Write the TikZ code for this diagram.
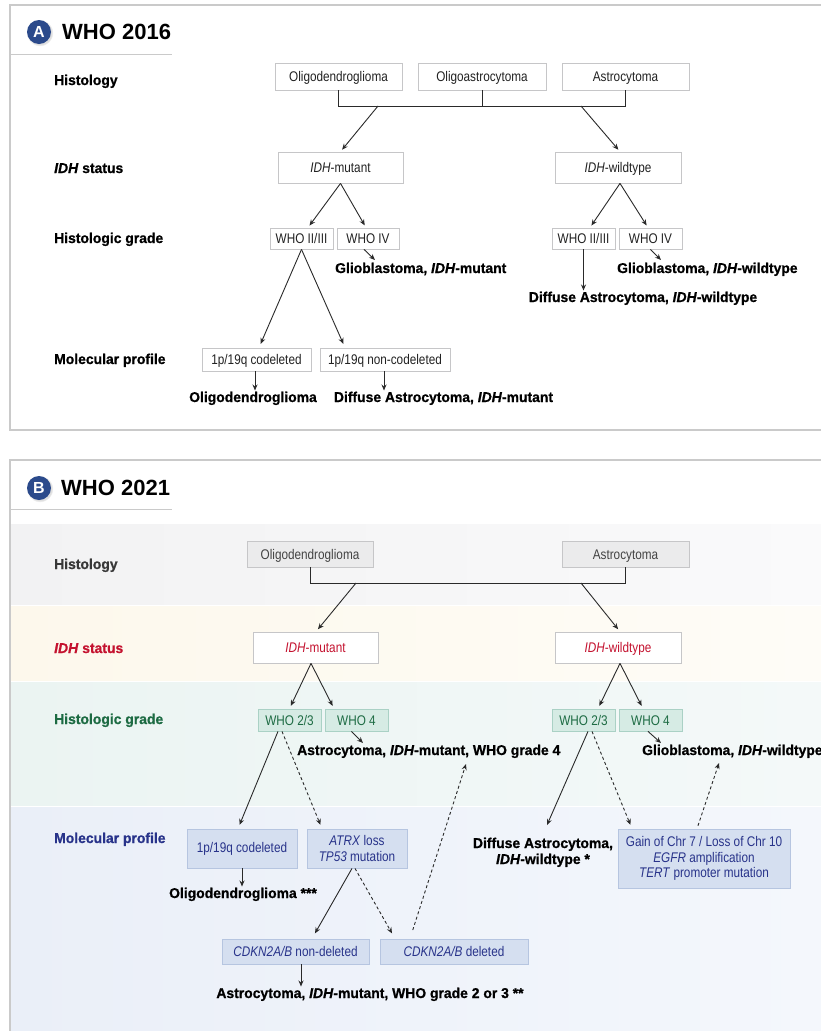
\documentclass[tikz,border=0pt]{standalone}
\usepackage{fontspec}
\setmainfont{Liberation Sans}
\newfontfamily\boxfont{Liberation Sans}[FakeStretch=0.84]
\newfontfamily\labfont{Liberation Sans}[FakeStretch=0.98, BoldFeatures={FakeBold=0.8}, BoldItalicFeatures={FakeBold=0.8}]
\usetikzlibrary{arrows.meta,shadows,calc}
\definecolor{ln}{HTML}{2A2A2A}
\definecolor{framec}{HTML}{CACACA}
\definecolor{badgec}{HTML}{2B4A8B}
\definecolor{redc}{HTML}{C4122F}
\definecolor{greenc}{HTML}{1D6B43}
\definecolor{navyc}{HTML}{28338A}
\definecolor{boxtxt}{HTML}{222222}
\definecolor{histfill}{HTML}{EBEBEC}
\definecolor{histdraw}{HTML}{C6C6C8}
\definecolor{gradefill}{HTML}{D6EBE4}
\definecolor{gradedraw}{HTML}{AAD1C5}
\definecolor{molfill}{HTML}{D5DFF0}
\definecolor{moldraw}{HTML}{B6C5E0}
\definecolor{bandHa}{HTML}{F2F2F3}
\definecolor{bandHb}{HTML}{FAFAFB}
\definecolor{bandIa}{HTML}{FDF8EC}
\definecolor{bandIb}{HTML}{FEFCF7}
\definecolor{bandGa}{HTML}{EBF4F2}
\definecolor{bandGb}{HTML}{F4F9F9}
\definecolor{bandMa}{HTML}{EAEFF8}
\definecolor{bandMb}{HTML}{F4F7FC}
\tikzset{
  conn/.style={draw=ln, line width=0.9pt},
  arr/.style={conn, -{Stealth[length=6pt,width=5pt]}},
  darr/.style={arr, dash pattern=on 3pt off 2.5pt},
  bx/.style={rectangle, inner sep=0pt, align=center, line width=0.8pt,
    font=\boxfont\fontsize{14}{15.5}\selectfont,
    drop shadow={shadow xshift=1pt, shadow yshift=-1.2pt, opacity=0.18}},
  sl/.style={text height=11pt, text depth=1pt},
  boxA/.style={bx, sl, draw=histdraw, fill=white, text=boxtxt},
  boxH/.style={bx, sl, draw=histdraw, fill=histfill, text=boxtxt!85},
  boxI/.style={bx, sl, draw=histdraw, fill=white, text=redc},
  boxG/.style={bx, sl, draw=gradedraw, fill=gradefill, text=greenc},
  boxM/.style={bx, draw=moldraw, fill=molfill, text=navyc},
  lab/.style={inner sep=0pt, font=\labfont\fontsize{14.2}{15}\selectfont\bfseries, text=black},
  badgest/.style={circle, fill=badgec, minimum size=24pt, inner sep=0pt, text=white,
    font=\fontsize{16}{16}\selectfont\bfseries,
    circular drop shadow={shadow xshift=0.8pt, shadow yshift=-0.8pt, shadow scale=1.12, opacity=0.25}},
  titlest/.style={inner sep=0pt, font=\fontsize{22}{22}\selectfont\bfseries, text=black},
}
\begin{document}
\begin{tikzpicture}[x=1pt,y=-1pt]
\useasboundingbox (0,0) rectangle (821,1031);
\fill[white] (0,0) rectangle (821,1031);

%================ Panel A ================
\draw[framec, line width=1.2pt] (830,5) -- (10,5) -- (10,430) -- (830,430);
\node[badgest] (bA) at (39,32) {A};
\node[titlest, anchor=base west] (tA) at (62,39) {WHO 2016};
\draw[framec, line width=1pt] (10,54) -- (172,54);

\node[lab, anchor=base west] (lHA) at (54,85) {Histology};
\node[lab, anchor=base west] (lIA) at (54,173) {\textit{IDH} status};
\node[lab, anchor=base west] (lGA) at (54,243) {Histologic grade};
\node[lab, anchor=base west] (lMA) at (54,364) {Molecular profile};

\node[boxA, minimum width=127pt, minimum height=27pt] (hOligo) at (338.5,76.5) {Oligodendroglioma};
\node[boxA, minimum width=128pt, minimum height=27pt] (hOA) at (482,76.5) {Oligoastrocytoma};
\node[boxA, minimum width=127pt, minimum height=27pt] (hAstro) at (625.5,76.5) {Astrocytoma};

\coordinate (jA) at (0,106);
\draw[conn] (hOligo.south) |- (hAstro.south |- jA) -- (hAstro.south);
\draw[conn] (hOA.south) -- (hOA.south |- jA);

\node[boxA, minimum width=125pt, minimum height=31pt] (idhm) at (340.5,167.5) {\textit{IDH}-mutant};
\node[boxA, minimum width=126pt, minimum height=31pt] (idhw) at (618,167.5) {\textit{IDH}-wildtype};

\coordinate (jA1) at (378,106);
\coordinate (jA2) at (581,106);
\draw[arr, shorten >=2.5pt] (jA1) -- (idhm.north);
\draw[arr, shorten >=2.5pt] (jA2) -- ([xshift=2pt]idhw.north);

\node[boxA, minimum width=63pt, minimum height=21pt] (w23A) at (301.5,238.5) {WHO II/III};
\node[boxA, minimum width=62pt, minimum height=21pt] (w4A) at (368,238.5) {WHO IV};
\node[boxA, minimum width=63pt, minimum height=21pt] (w23Aw) at (583.5,238.5) {WHO II/III};
\node[boxA, minimum width=63pt, minimum height=21pt] (w4Aw) at (650.5,238.5) {WHO IV};

\draw[arr, shorten >=2.5pt] (idhm.south) -- ([xshift=6.5pt]w23A.north);
\draw[arr, shorten >=2.5pt] (idhm.south) -- ([xshift=-2pt]w4A.north);
\draw[arr, shorten >=2.5pt] ([xshift=2pt]idhw.south) -- ([xshift=6.5pt]w23Aw.north);
\draw[arr, shorten >=2.5pt] ([xshift=2pt]idhw.south) -- ([xshift=-2.5pt]w4Aw.north);

\node[lab, anchor=base west] (gbmA) at (335,273) {Glioblastoma, \textit{IDH}-mutant};
\node[lab, anchor=base west] (gbmAw) at (617,273) {Glioblastoma, \textit{IDH}-wildtype};
\node[lab, anchor=base] (dAstAw) at (643,302) {Diffuse Astrocytoma, \textit{IDH}-wildtype};

\coordinate (gA) at (375,260);
\coordinate (gAw) at (661,260);
\draw[arr] ([xshift=-4pt]w4A.south) -- (gA);
\draw[arr] (w4Aw.south) -- (gAw);
\draw[arr, shorten >=1pt] (w23Aw.south) -- (w23Aw.south |- dAstAw.north);

\node[boxA, minimum width=109pt, minimum height=23pt] (p1A) at (256.5,359.5) {1p/19q codeleted};
\node[boxA, minimum width=130pt, minimum height=23pt] (p2A) at (385,359.5) {1p/19q non-codeleted};

\draw[arr, shorten >=4pt] (w23A.south) -- ([xshift=2.5pt]p1A.north);
\draw[arr, shorten >=4pt] (w23A.south) -- ([xshift=-40pt]p2A.north);

\node[lab, anchor=base] (oligoA) at (253,402) {Oligodendroglioma};
\node[lab, anchor=base] (dAstA) at (443.5,402) {Diffuse Astrocytoma, \textit{IDH}-mutant};
\draw[arr, shorten >=1pt] ([xshift=-1.5pt]p1A.south) -- ([xshift=-1.5pt]p1A.south |- oligoA.north);
\draw[arr, shorten >=1pt] ([xshift=-1pt]p2A.south) -- ([xshift=-1pt]p2A.south |- dAstA.north);

%================ Panel B ================
\shade[left color=bandHa, right color=bandHb] (11,524) rectangle (821,604.5);
\shade[left color=bandIa, right color=bandIb] (11,606.5) rectangle (821,680.5);
\shade[left color=bandGa, right color=bandGb] (11,682.5) rectangle (821,805);
\shade[left color=bandMa, right color=bandMb] (11,807) rectangle (821,1031);

\draw[framec, line width=1.2pt] (830,460) -- (10,460) -- (10,1040);
\node[badgest] (bB) at (39,488) {B};
\node[titlest, anchor=base west] (tB) at (61,495) {WHO 2021};
\draw[framec, line width=1pt] (10,509) -- (172,509);

\node[lab, anchor=base west, text=black!78] (lHB) at (54,569) {Histology};
\node[lab, anchor=base west, text=redc] (lIB) at (54,653) {\textit{IDH} status};
\node[lab, anchor=base west, text=greenc] (lGB) at (54,724) {Histologic grade};
\node[lab, anchor=base west, text=navyc] (lMB) at (54,843) {Molecular profile};

\node[boxH, minimum width=126pt, minimum height=26pt] (hOligoB) at (310,554) {Oligodendroglioma};
\node[boxH, minimum width=127pt, minimum height=26pt] (hAstroB) at (625.5,554) {Astrocytoma};
\coordinate (jB) at (0,583);
\draw[conn] (hOligoB.south) |- (hAstroB.south |- jB) -- (hAstroB.south);

\node[boxI, minimum width=125pt, minimum height=31pt] (idhmB) at (315.5,647.5) {\textit{IDH}-mutant};
\node[boxI, minimum width=126pt, minimum height=31pt] (idhwB) at (618,647.5) {\textit{IDH}-wildtype};

\coordinate (jB1) at (356,583);
\coordinate (jB2) at (581,583);
\draw[arr, shorten >=3pt] (jB1) -- ([xshift=0.5pt]idhmB.north);
\draw[arr, shorten >=3pt] (jB2) -- ([xshift=2pt]idhwB.north);

\node[boxG, minimum width=63pt, minimum height=22pt] (w23B) at (289.5,720) {WHO 2/3};
\node[boxG, minimum width=63pt, minimum height=22pt] (w4B) at (356.5,720) {WHO 4};
\node[boxG, minimum width=63pt, minimum height=22pt] (w23Bw) at (583.5,720) {WHO 2/3};
\node[boxG, minimum width=63pt, minimum height=22pt] (w4Bw) at (650.5,720) {WHO 4};

\draw[arr, shorten >=3pt] ([xshift=-4.5pt]idhmB.south) -- (w23B.north);
\draw[arr, shorten >=3pt] ([xshift=-4.5pt]idhmB.south) -- ([xshift=-22.5pt]w4B.north);
\draw[arr, shorten >=3pt] ([xshift=2pt]idhwB.south) -- ([xshift=14.5pt]w23Bw.north);
\draw[arr, shorten >=3pt] ([xshift=2pt]idhwB.south) -- ([xshift=-7.5pt]w4Bw.north);

\node[lab, anchor=base west] (astro4) at (297,755) {Astrocytoma, \textit{IDH}-mutant, WHO grade 4};
\node[lab, anchor=base west] (gbmB) at (642,755) {Glioblastoma, \textit{IDH}-wildtype};
\coordinate (gB) at (363,743);
\coordinate (gBw) at (661,743);
\draw[arr] ([xshift=-5pt]w4B.south) -- (gB);
\draw[arr] ([xshift=-2.5pt]w4Bw.south) -- (gBw);

\node[boxM, minimum width=110pt, minimum height=39pt] (codelB) at (242,848.5) {1p/19q codeleted};
\node[boxM, minimum width=100pt, minimum height=39pt] (atrx) at (357,848.5) {\textit{ATRX} loss\\\textit{TP53} mutation};

\draw[arr, shorten >=4pt] ([xshift=-11.5pt]w23B.south) -- ([xshift=-4pt]codelB.north);
\draw[darr, shorten >=4pt] ([xshift=-7.5pt]w23B.south) -- ([xshift=-35pt]atrx.north);

\node[lab, anchor=base] (oligoB) at (243,898) {Oligodendroglioma ***};
\draw[arr, shorten >=1pt] (codelB.south) -- (codelB.south |- oligoB.north);

\node[boxM, sl, minimum width=147pt, minimum height=25pt] (cdknNon) at (295.5,951.5) {\textit{CDKN2A/B} non-deleted};
\node[boxM, sl, minimum width=148pt, minimum height=25pt] (cdknDel) at (454,951.5) {\textit{CDKN2A/B} deleted};

\draw[arr, shorten >=6pt] ([xshift=-5pt]atrx.south) -- ([xshift=16.5pt]cdknNon.north);
\draw[darr, shorten >=6pt] ([xshift=-2pt]atrx.south) -- ([xshift=-59pt]cdknDel.north);

\node[lab, anchor=base] (astro23) at (370,998) {Astrocytoma, \textit{IDH}-mutant, WHO grade 2 or 3 **};
\draw[arr, shorten >=1pt] ([xshift=5.5pt]cdknNon.south) -- ([xshift=5.5pt]cdknNon.south |- astro23.north);

\coordinate (upA) at (466,764);
\draw[darr, shorten <=9pt] ([xshift=-44pt]cdknDel.north) -- (upA);

\node[lab, anchor=base] (dAstB1) at (543,848) {Diffuse Astrocytoma,};
\node[lab, anchor=base] (dAstB2) at (543,864) {\textit{IDH}-wildtype *};
\coordinate (dB) at (547,825);
\draw[arr] ([xshift=4.5pt]w23Bw.south) -- (dB);

\node[boxM, minimum width=172pt, minimum height=59pt] (gain) at (704,858.5) {Gain of Chr 7 / Loss of Chr 10\\\textit{EGFR} amplification\\\textit{TERT} promoter mutation};
\draw[darr, shorten >=4pt] ([xshift=8.5pt]w23Bw.south) -- ([xshift=-72pt]gain.north);
\coordinate (upB) at (719,763);
\draw[darr, shorten <=3pt] ([xshift=-7pt]gain.north) -- (upB);

\end{tikzpicture}
\end{document}
